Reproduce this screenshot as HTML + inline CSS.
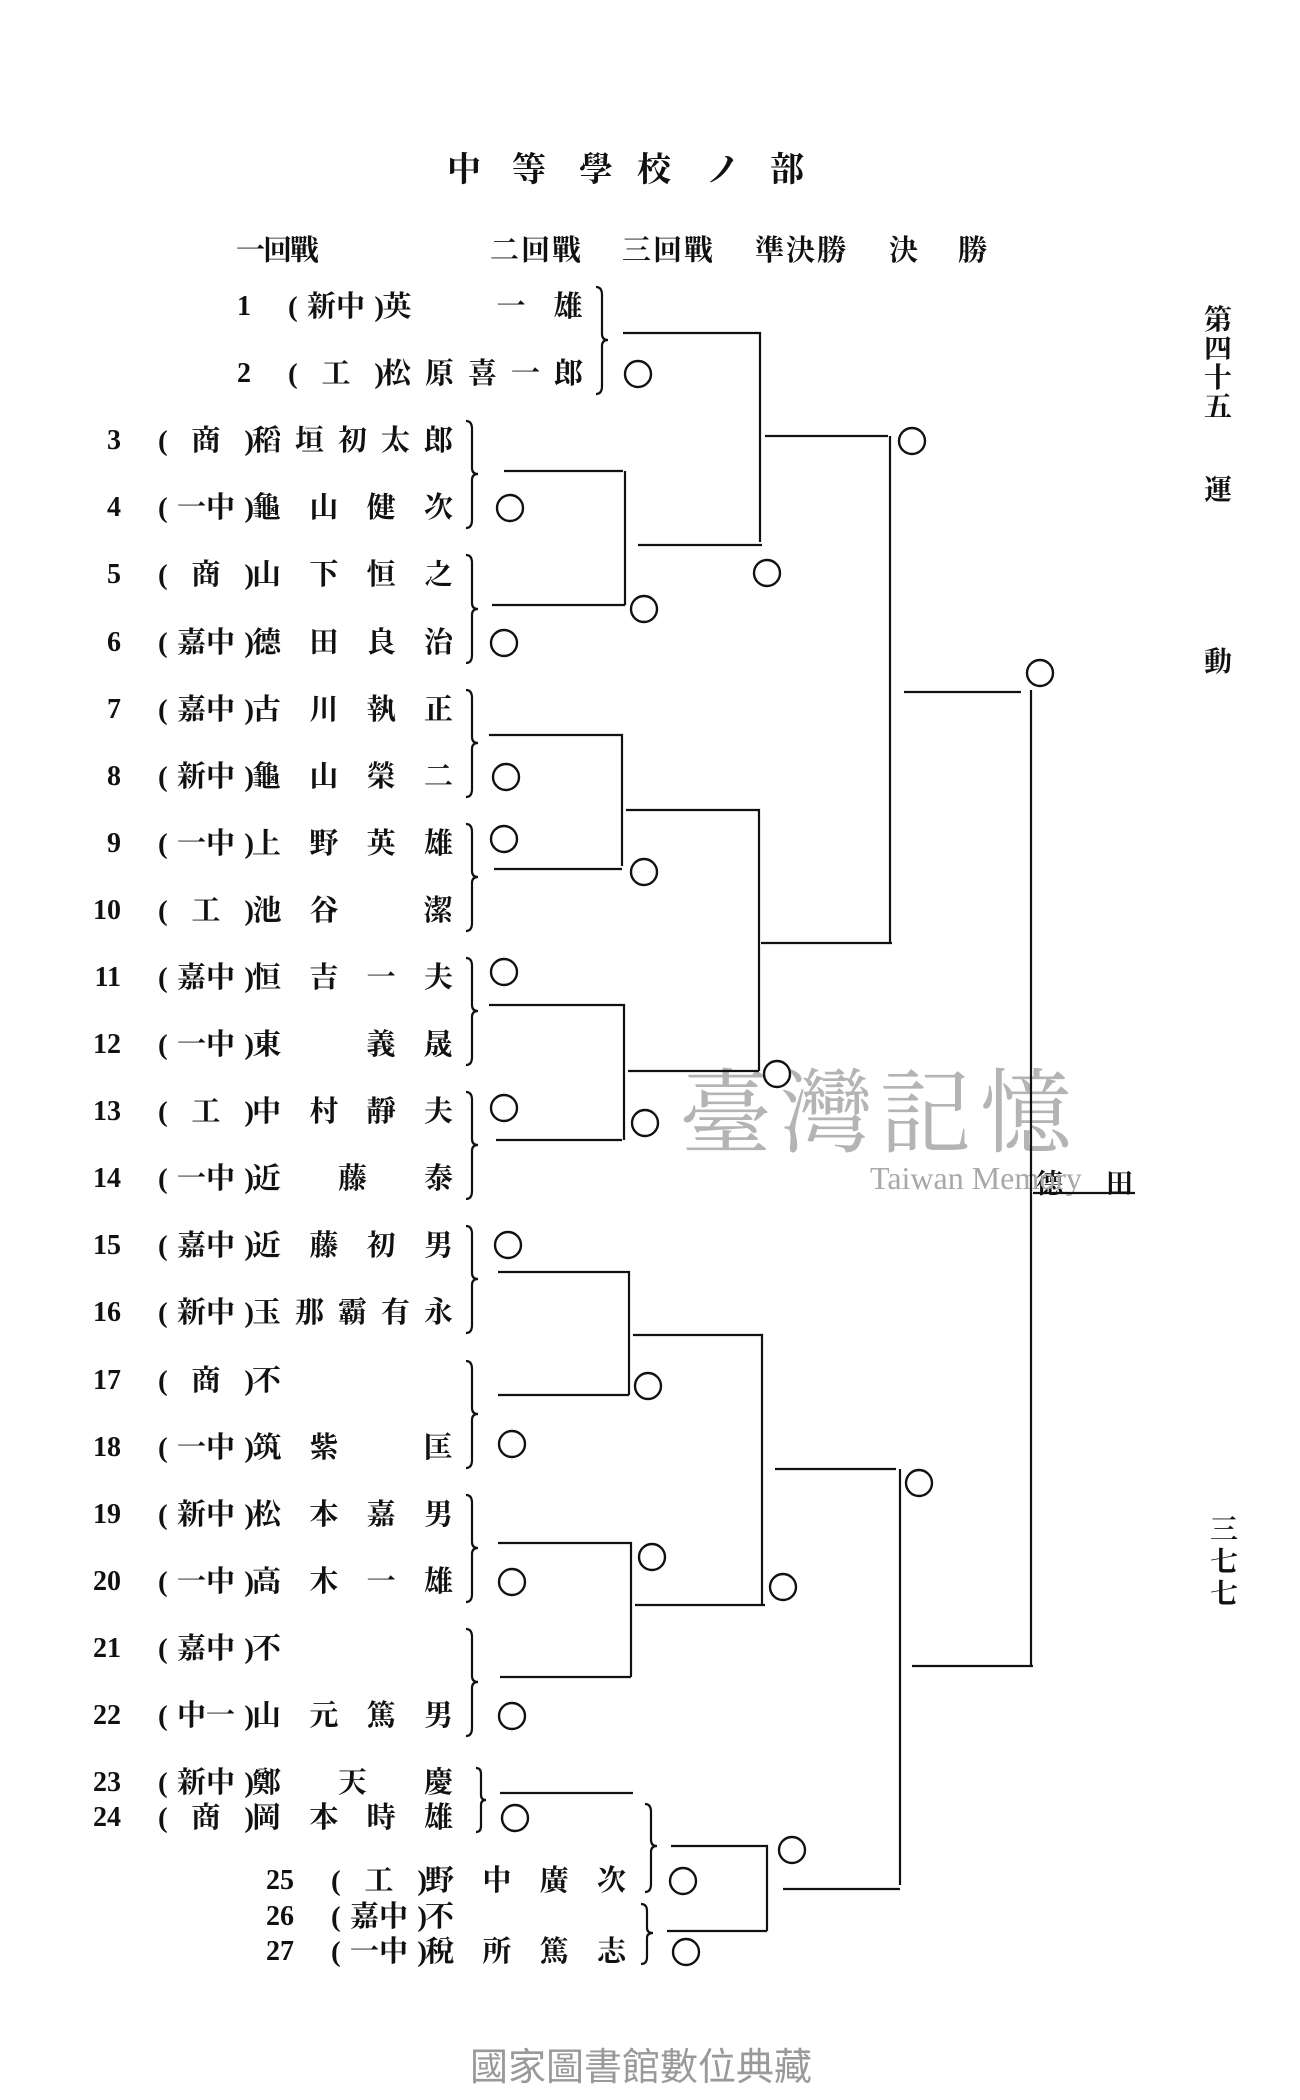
<!DOCTYPE html>
<html><head><meta charset="utf-8">
<style>
html,body{margin:0;padding:0;background:#fff;}
body{width:1300px;height:2100px;position:relative;overflow:hidden;font-family:"Liberation Serif","Noto Serif CJK JP","Noto Serif CJK SC",serif;color:#111;}
.t{position:absolute;font-weight:bold;}
.row{position:absolute;height:34px;line-height:34px;font-size:29px;font-weight:bold;}
.num{position:absolute;width:50px;text-align:right;font-family:"Liberation Serif",serif;font-weight:bold;font-size:28px;}
.aff{position:absolute;width:96px;display:flex;justify-content:space-between;}
.nm{position:absolute;width:201px;display:flex;justify-content:space-between;}
.nm span,.aff span{display:inline-block;}
.b{width:30px;text-align:center;}
svg{position:absolute;left:0;top:0;}
</style></head><body>

<div class="t" style="left:447px;top:142px;font-size:34px;">中</div>
<div class="t" style="left:512px;top:142px;font-size:34px;">等</div>
<div class="t" style="left:579px;top:142px;font-size:34px;">學</div>
<div class="t" style="left:637px;top:142px;font-size:34px;">校</div>
<div class="t" style="left:706px;top:142px;font-size:34px;">ノ</div>
<div class="t" style="left:770px;top:142px;font-size:34px;">部</div>

<div class="t" style="left:236px;top:228px;font-size:29px;letter-spacing:-2px;">一回戰</div>
<div class="t" style="left:490px;top:228px;font-size:29px;letter-spacing:2px;">二回戰</div>
<div class="t" style="left:622px;top:228px;font-size:29px;letter-spacing:2px;">三回戰</div>
<div class="t" style="left:755px;top:228px;font-size:29px;letter-spacing:2px;">準決勝</div>
<div class="t" style="left:889px;top:228px;font-size:29px;">決</div>
<div class="t" style="left:958px;top:228px;font-size:29px;">勝</div>

<div class="t" style="left:1204px;top:306px;font-size:28px;line-height:29px;width:30px;">第<br>四<br>十<br>五</div>
<div class="t" style="left:1204px;top:468px;font-size:28px;">運</div>
<div class="t" style="left:1204px;top:640px;font-size:28px;">動</div>
<div class="t" style="left:1210px;top:1515px;font-size:28px;line-height:32px;width:30px;">三<br>七<br>七</div>

<div class="t" style="left:1036px;top:1162px;font-size:27px;">德</div>
<div class="t" style="left:1106px;top:1162px;font-size:27px;">田</div>

<div style="position:absolute;left:680px;top:1040px;font-size:92px;color:#b4b4b4;font-family:'Noto Serif CJK JP',serif;letter-spacing:8px;">臺灣記憶</div>
<div style="position:absolute;left:870px;top:1160px;font-size:32px;color:#a8a8a8;font-family:'Liberation Serif',serif;">Taiwan Memory</div>

<div style="position:absolute;left:470px;top:2036px;font-size:38px;color:#999;font-family:'Liberation Sans','Noto Sans CJK TC',sans-serif;">國家圖書館數位典藏</div>

<div class="row" style="left:130px;top:290px;width:400px"><span class="num" style="left:71px">1</span><span class="aff" style="left:158px"><span>(</span><span>新中</span><span>)</span></span><span class="nm" style="left:252px"><span class="b">英</span><span class="b"></span><span class="b">一</span><span class="b">雄</span></span></div>
<div class="row" style="left:130px;top:357px;width:400px"><span class="num" style="left:71px">2</span><span class="aff" style="left:158px"><span>(</span><span>工</span><span>)</span></span><span class="nm" style="left:252px"><span>松</span><span>原</span><span>喜</span><span>一</span><span>郎</span></span></div>

<div class="row" style="left:0;top:424px;width:500px"><span class="num" style="left:71px">3</span><span class="aff" style="left:158px"><span>(</span><span>商</span><span>)</span></span><span class="nm" style="left:252px"><span>稻</span><span>垣</span><span>初</span><span>太</span><span>郎</span></span></div>
<div class="row" style="left:0;top:491px;width:500px"><span class="num" style="left:71px">4</span><span class="aff" style="left:158px"><span>(</span><span>一中</span><span>)</span></span><span class="nm" style="left:252px"><span>龜</span><span>山</span><span>健</span><span>次</span></span></div>
<div class="row" style="left:0;top:558px;width:500px"><span class="num" style="left:71px">5</span><span class="aff" style="left:158px"><span>(</span><span>商</span><span>)</span></span><span class="nm" style="left:252px"><span>山</span><span>下</span><span>恒</span><span>之</span></span></div>
<div class="row" style="left:0;top:626px;width:500px"><span class="num" style="left:71px">6</span><span class="aff" style="left:158px"><span>(</span><span>嘉中</span><span>)</span></span><span class="nm" style="left:252px"><span>德</span><span>田</span><span>良</span><span>治</span></span></div>
<div class="row" style="left:0;top:693px;width:500px"><span class="num" style="left:71px">7</span><span class="aff" style="left:158px"><span>(</span><span>嘉中</span><span>)</span></span><span class="nm" style="left:252px"><span>古</span><span>川</span><span>執</span><span>正</span></span></div>
<div class="row" style="left:0;top:760px;width:500px"><span class="num" style="left:71px">8</span><span class="aff" style="left:158px"><span>(</span><span>新中</span><span>)</span></span><span class="nm" style="left:252px"><span>龜</span><span>山</span><span>榮</span><span>二</span></span></div>
<div class="row" style="left:0;top:827px;width:500px"><span class="num" style="left:71px">9</span><span class="aff" style="left:158px"><span>(</span><span>一中</span><span>)</span></span><span class="nm" style="left:252px"><span>上</span><span>野</span><span>英</span><span>雄</span></span></div>
<div class="row" style="left:0;top:894px;width:500px"><span class="num" style="left:71px">10</span><span class="aff" style="left:158px"><span>(</span><span>工</span><span>)</span></span><span class="nm" style="left:252px"><span class="b">池</span><span class="b">谷</span><span class="b"></span><span class="b">潔</span></span></div>
<div class="row" style="left:0;top:961px;width:500px"><span class="num" style="left:71px">11</span><span class="aff" style="left:158px"><span>(</span><span>嘉中</span><span>)</span></span><span class="nm" style="left:252px"><span>恒</span><span>吉</span><span>一</span><span>夫</span></span></div>
<div class="row" style="left:0;top:1028px;width:500px"><span class="num" style="left:71px">12</span><span class="aff" style="left:158px"><span>(</span><span>一中</span><span>)</span></span><span class="nm" style="left:252px"><span class="b">東</span><span class="b"></span><span class="b">義</span><span class="b">晟</span></span></div>
<div class="row" style="left:0;top:1095px;width:500px"><span class="num" style="left:71px">13</span><span class="aff" style="left:158px"><span>(</span><span>工</span><span>)</span></span><span class="nm" style="left:252px"><span>中</span><span>村</span><span>靜</span><span>夫</span></span></div>
<div class="row" style="left:0;top:1162px;width:500px"><span class="num" style="left:71px">14</span><span class="aff" style="left:158px"><span>(</span><span>一中</span><span>)</span></span><span class="nm" style="left:252px"><span>近</span><span>藤</span><span>泰</span></span></div>
<div class="row" style="left:0;top:1229px;width:500px"><span class="num" style="left:71px">15</span><span class="aff" style="left:158px"><span>(</span><span>嘉中</span><span>)</span></span><span class="nm" style="left:252px"><span>近</span><span>藤</span><span>初</span><span>男</span></span></div>
<div class="row" style="left:0;top:1296px;width:500px"><span class="num" style="left:71px">16</span><span class="aff" style="left:158px"><span>(</span><span>新中</span><span>)</span></span><span class="nm" style="left:252px"><span>玉</span><span>那</span><span>霸</span><span>有</span><span>永</span></span></div>
<div class="row" style="left:0;top:1364px;width:500px"><span class="num" style="left:71px">17</span><span class="aff" style="left:158px"><span>(</span><span>商</span><span>)</span></span><span class="nm" style="left:252px"><span>不</span></span></div>
<div class="row" style="left:0;top:1431px;width:500px"><span class="num" style="left:71px">18</span><span class="aff" style="left:158px"><span>(</span><span>一中</span><span>)</span></span><span class="nm" style="left:252px"><span class="b">筑</span><span class="b">紫</span><span class="b"></span><span class="b">匡</span></span></div>
<div class="row" style="left:0;top:1498px;width:500px"><span class="num" style="left:71px">19</span><span class="aff" style="left:158px"><span>(</span><span>新中</span><span>)</span></span><span class="nm" style="left:252px"><span>松</span><span>本</span><span>嘉</span><span>男</span></span></div>
<div class="row" style="left:0;top:1565px;width:500px"><span class="num" style="left:71px">20</span><span class="aff" style="left:158px"><span>(</span><span>一中</span><span>)</span></span><span class="nm" style="left:252px"><span>高</span><span>木</span><span>一</span><span>雄</span></span></div>
<div class="row" style="left:0;top:1632px;width:500px"><span class="num" style="left:71px">21</span><span class="aff" style="left:158px"><span>(</span><span>嘉中</span><span>)</span></span><span class="nm" style="left:252px"><span>不</span></span></div>
<div class="row" style="left:0;top:1699px;width:500px"><span class="num" style="left:71px">22</span><span class="aff" style="left:158px"><span>(</span><span>中一</span><span>)</span></span><span class="nm" style="left:252px"><span>山</span><span>元</span><span>篤</span><span>男</span></span></div>
<div class="row" style="left:0;top:1766px;width:500px"><span class="num" style="left:71px">23</span><span class="aff" style="left:158px"><span>(</span><span>新中</span><span>)</span></span><span class="nm" style="left:252px"><span>鄭</span><span>天</span><span>慶</span></span></div>
<div class="row" style="left:0;top:1801px;width:500px"><span class="num" style="left:71px">24</span><span class="aff" style="left:158px"><span>(</span><span>商</span><span>)</span></span><span class="nm" style="left:252px"><span>岡</span><span>本</span><span>時</span><span>雄</span></span></div>
<div class="row" style="left:173px;top:1864px;width:500px"><span class="num" style="left:71px">25</span><span class="aff" style="left:158px"><span>(</span><span>工</span><span>)</span></span><span class="nm" style="left:252px"><span>野</span><span>中</span><span>廣</span><span>次</span></span></div>
<div class="row" style="left:173px;top:1900px;width:500px"><span class="num" style="left:71px">26</span><span class="aff" style="left:158px"><span>(</span><span>嘉中</span><span>)</span></span><span class="nm" style="left:252px"><span>不</span></span></div>
<div class="row" style="left:173px;top:1935px;width:500px"><span class="num" style="left:71px">27</span><span class="aff" style="left:158px"><span>(</span><span>一中</span><span>)</span></span><span class="nm" style="left:252px"><span>稅</span><span>所</span><span>篤</span><span>志</span></span></div>

<svg width="1300" height="2100" viewBox="0 0 1300 2100">
<g fill="none" stroke="#111" stroke-width="2.2">
<path d="M596 287 Q602 287 602 295 L602 334 Q602 340 608 340 Q602 340 602 346 L602 386 Q602 394 596 394"/>
<path d="M466 421 Q472 421 472 429 L472 468 Q472 474 478 474 Q472 474 472 480 L472 520 Q472 528 466 528"/>
<path d="M466 555 Q472 555 472 563 L472 603 Q472 609 478 609 Q472 609 472 615 L472 655 Q472 663 466 663"/>
<path d="M466 690 Q472 690 472 698 L472 737 Q472 743 478 743 Q472 743 472 749 L472 789 Q472 797 466 797"/>
<path d="M466 824 Q472 824 472 832 L472 871 Q472 877 478 877 Q472 877 472 883 L472 923 Q472 931 466 931"/>
<path d="M466 958 Q472 958 472 966 L472 1005 Q472 1011 478 1011 Q472 1011 472 1017 L472 1057 Q472 1065 466 1065"/>
<path d="M466 1092 Q472 1092 472 1100 L472 1139 Q472 1145 478 1145 Q472 1145 472 1151 L472 1191 Q472 1199 466 1199"/>
<path d="M466 1226 Q472 1226 472 1234 L472 1273 Q472 1279 478 1279 Q472 1279 472 1285 L472 1325 Q472 1333 466 1333"/>
<path d="M466 1361 Q472 1361 472 1369 L472 1408 Q472 1414 478 1414 Q472 1414 472 1420 L472 1460 Q472 1468 466 1468"/>
<path d="M466 1495 Q472 1495 472 1503 L472 1542 Q472 1548 478 1548 Q472 1548 472 1554 L472 1594 Q472 1602 466 1602"/>
<path d="M466 1629 Q472 1629 472 1637 L472 1676 Q472 1682 478 1682 Q472 1682 472 1688 L472 1728 Q472 1736 466 1736"/>
<path d="M476 1768 Q481 1768 481 1774 L481 1795 Q481 1800 486 1800 Q481 1800 481 1805 L481 1826 Q481 1832 476 1832"/>
<path d="M645 1804 Q651 1804 651 1812 L651 1840 Q651 1846 657 1846 Q651 1846 651 1852 L651 1884 Q651 1892 645 1892"/>
<path d="M641 1904 Q647 1904 647 1911 L647 1928 Q647 1933 653 1933 Q647 1933 647 1938 L647 1957 Q647 1964 641 1964"/>
<path d="M623 333 H760 V542 M638 545 H762"/>
<path d="M504 471 H623 M625 471 V605 M492 605 H625"/>
<path d="M765 436 H888 M890 436 V943 M761 943 H892"/>
<path d="M904 692 H1021 M1031 690 V1666 M912 1666 H1033"/>
<path d="M489 735 H622 V866 M494 869 H622"/>
<path d="M626 810 H759 V1071 M628 1071 H759"/>
<path d="M489 1005 H624 V1140 M496 1140 H622"/>
<path d="M498 1272 H629 V1395 M498 1395 H629"/>
<path d="M633 1335 H762 V1605 M635 1605 H765"/>
<path d="M775 1469 H896 M900 1469 V1885 M783 1889 H900"/>
<path d="M498 1543 H631 V1677 M500 1677 H631"/>
<path d="M500 1793 H633"/>
<path d="M671 1846 H767 V1931 M667 1931 H767"/>
<path d="M1033 1193 H1135"/>
</g>
<g fill="none" stroke="#111" stroke-width="2.4">
<circle cx="638" cy="374" r="13"/><circle cx="510" cy="508" r="13"/><circle cx="504" cy="643" r="13"/>
<circle cx="644" cy="609" r="13"/><circle cx="767" cy="573" r="13"/><circle cx="912" cy="441" r="13"/>
<circle cx="1040" cy="673" r="13"/><circle cx="506" cy="777" r="13"/><circle cx="504" cy="839" r="13"/>
<circle cx="644" cy="872" r="13"/><circle cx="504" cy="972" r="13"/><circle cx="777" cy="1074" r="13"/>
<circle cx="504" cy="1108" r="13"/><circle cx="645" cy="1123" r="13"/><circle cx="508" cy="1245" r="13"/>
<circle cx="648" cy="1386" r="13"/><circle cx="512" cy="1444" r="13"/><circle cx="652" cy="1557" r="13"/>
<circle cx="512" cy="1582" r="13"/><circle cx="783" cy="1587" r="13"/><circle cx="919" cy="1483" r="13"/>
<circle cx="512" cy="1716" r="13"/><circle cx="515" cy="1818" r="13"/><circle cx="792" cy="1850" r="13"/>
<circle cx="683" cy="1881" r="13"/><circle cx="686" cy="1952" r="13"/>
</g>
</svg>
</body></html>
